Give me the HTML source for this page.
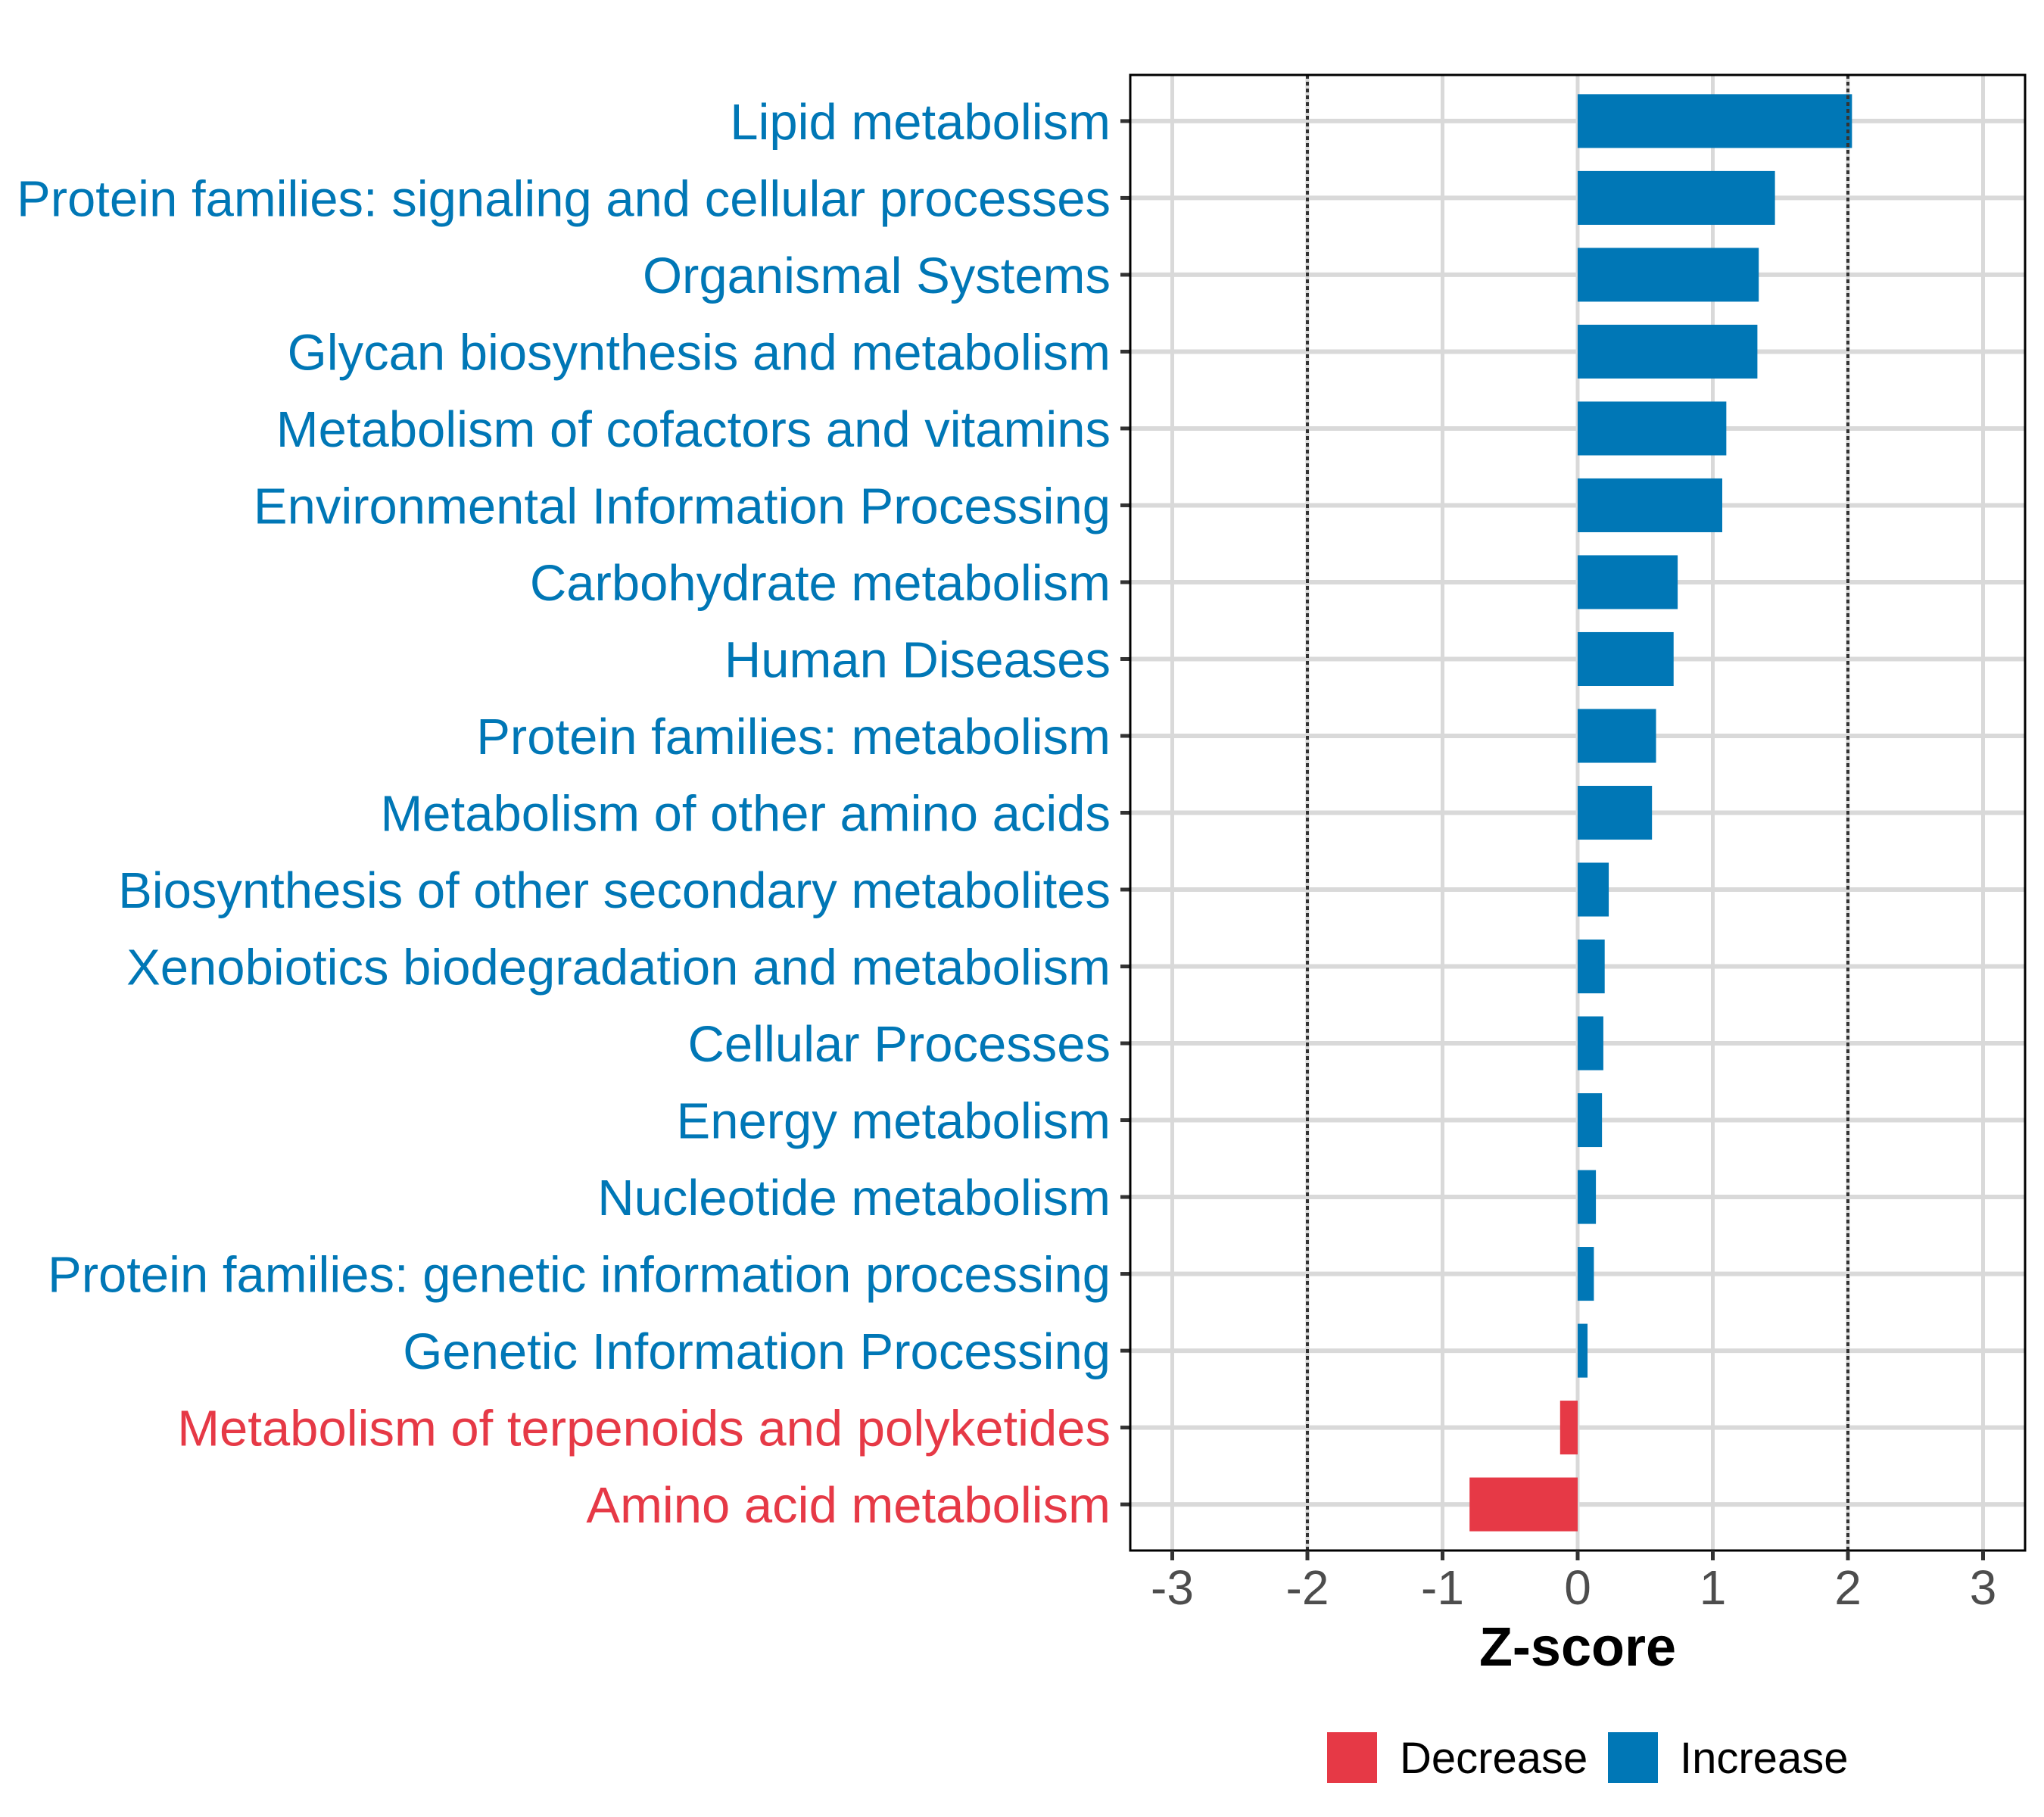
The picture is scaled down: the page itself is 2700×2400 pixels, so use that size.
<!DOCTYPE html>
<html><head><meta charset="utf-8"><style>
html,body{margin:0;padding:0;background:#fff;}
svg{display:block;font-family:"Liberation Sans",sans-serif;}
</style></head><body>
<svg id="chart" width="2700" height="2400" viewBox="0 0 2700 2400" xmlns="http://www.w3.org/2000/svg">
<rect x="0" y="0" width="2700" height="2400" fill="#fff"/>
<g id="grid"></g><g id="bars"></g><g id="axes"></g>
</svg>
<script>
const categories = ["Lipid metabolism","Protein families: signaling and cellular processes","Organismal Systems","Glycan biosynthesis and metabolism","Metabolism of cofactors and vitamins","Environmental Information Processing","Carbohydrate metabolism","Human Diseases","Protein families: metabolism","Metabolism of other amino acids","Biosynthesis of other secondary metabolites","Xenobiotics biodegradation and metabolism","Cellular Processes","Energy metabolism","Nucleotide metabolism","Protein families: genetic information processing","Genetic Information Processing","Metabolism of terpenoids and polyketides","Amino acid metabolism"];
const zscores = [2.03,1.46,1.34,1.33,1.10,1.07,0.74,0.71,0.58,0.55,0.23,0.20,0.19,0.18,0.135,0.12,0.073,-0.13,-0.80];
const xTicks = [-3,-2,-1,0,1,2,3];
const xTickLabels = ["-3","-2","-1","0","1","2","3"];
const thresholds = [-2,2];

const NS="http://www.w3.org/2000/svg";
const L=1493,R=2675,T=99,B=2048;
const x0=2084,unit=178.5;
const X=v=>x0+v*unit;
const rowH=(B-T)/(categories.length-1+1.2);
const Y=i=>T+rowH*(0.6+i);
const BLUE="#0077b6",RED="#e63946";
function mk(tag,attrs,parent){const e=document.createElementNS(NS,tag);for(const k in attrs)e.setAttribute(k,attrs[k]);parent.appendChild(e);return e;}
const grid=document.getElementById('grid'),bars=document.getElementById('bars'),axes=document.getElementById('axes');

xTicks.forEach((t,i)=>{
  const g=mk('line',{x1:X(t),x2:X(t),y1:T,y2:B,stroke:'#d9d9d9','stroke-width':5},grid);
  
  
});
categories.forEach((c,i)=>{
  const g=mk('line',{x1:L,x2:R,y1:Y(i),y2:Y(i),stroke:'#d9d9d9','stroke-width':6},grid);
  
  
});
categories.forEach((c,i)=>{
  const v=zscores[i];const h=rowH*0.7;
  const r=mk('rect',{x:Math.min(X(0),X(v)),y:Y(i)-h/2,width:Math.abs(X(v)-X(0)),height:h,fill:v<0?RED:BLUE},bars);
  
  
  const t=mk('text',{x:1467,y:Y(i)+24,'text-anchor':'end','font-size':67,fill:v<0?RED:BLUE},axes);
  t.textContent=c;
  
  
  const tk=mk('line',{x1:1480,x2:L,y1:Y(i),y2:Y(i),stroke:'#333','stroke-width':5},axes);
  
  
});
thresholds.forEach(t=>{
  const l=mk('line',{x1:X(t),x2:X(t),y1:T,y2:B,stroke:'#333','stroke-width':4,'stroke-dasharray':'5 4'},bars);
  
  
});
const border=mk('rect',{x:L,y:T,width:R-L,height:B-T,fill:'none',stroke:'#000','stroke-width':3},axes);


xTicks.forEach((t,i)=>{
  const tk=mk('line',{x1:X(t),x2:X(t),y1:B,y2:B+13,stroke:'#333','stroke-width':5},axes);
  
  
  const lb=mk('text',{x:X(t),y:2119,'text-anchor':'middle','font-size':64,fill:'#4d4d4d'},axes);
  lb.textContent=xTickLabels[i];
  
  
});
</script>
<svg style="position:absolute;left:0;top:0" width="2700" height="2400">
<text x="2084" y="2200" text-anchor="middle" font-family="Liberation Sans, sans-serif" font-weight="bold" font-size="72" fill="#000">Z-score</text>
<rect x="1753" y="2288" width="66" height="67" fill="#e63946"/>
<text x="1849" y="2342" font-family="Liberation Sans, sans-serif" font-size="58" fill="#000">Decrease</text>
<rect x="2124" y="2288" width="66" height="67" fill="#0077b6"/>
<text x="2219" y="2342" font-family="Liberation Sans, sans-serif" font-size="58" fill="#000">Increase</text>
</svg>
</body></html>
